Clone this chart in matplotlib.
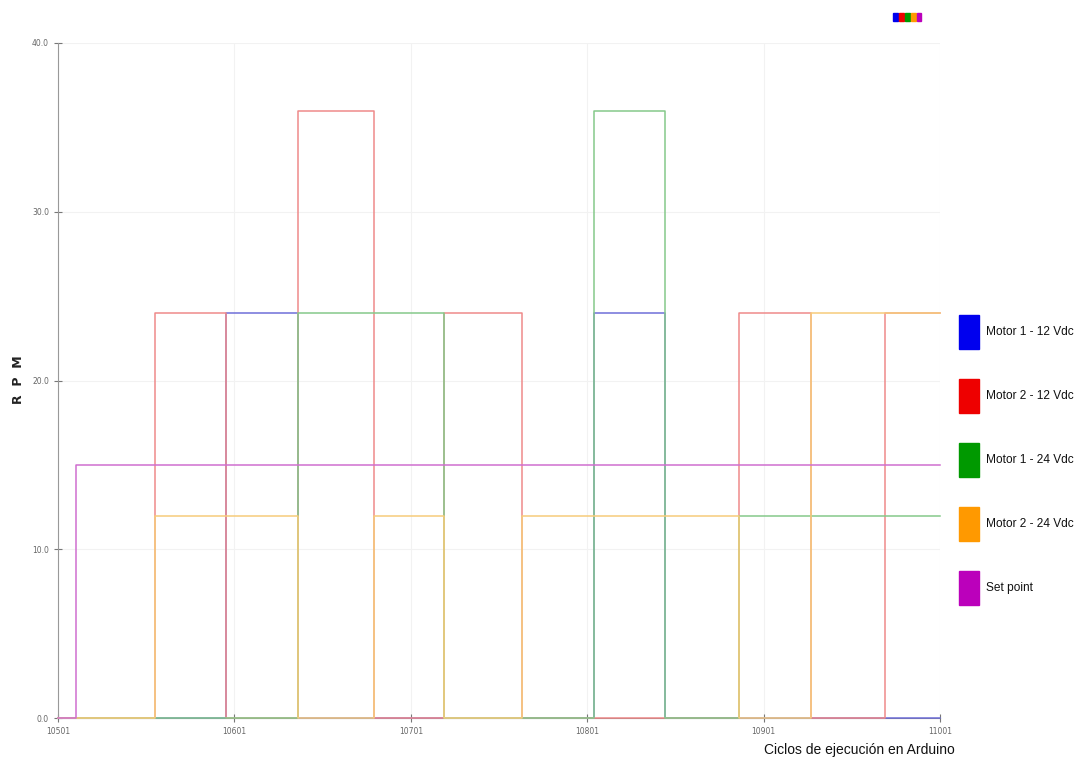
import matplotlib
matplotlib.use("Agg")
import matplotlib.pyplot as plt
from matplotlib.patches import Rectangle
from matplotlib.ticker import FormatStrFormatter

# Cycle counts where the readings change (step edges)
edges = [10501, 10511, 10556, 10596, 10637, 10680, 10720, 10764,
         10805, 10845, 10887, 10928, 10970, 11001]

# RPM held on each interval between consecutive edges
motor1_12 = [0, 0, 0, 24, 0, 0, 0, 0, 24, 0, 0, 0, 0]
motor2_12 = [0, 0, 24, 0, 36, 0, 24, 0, 0, 0, 24, 0, 24]
motor1_24 = [0, 0, 0, 0, 24, 24, 0, 0, 36, 0, 12, 12, 12]
motor2_24 = [0, 0, 12, 12, 0, 12, 0, 12, 12, 12, 0, 24, 24]
set_point = [0, 15, 15, 15, 15, 15, 15, 15, 15, 15, 15, 15, 15]

labels = ["Motor 1 - 12 Vdc", "Motor 2 - 12 Vdc", "Motor 1 - 24 Vdc",
          "Motor 2 - 24 Vdc", "Set point"]
colors = ["#0000ee", "#ee0000", "#009900", "#ff9900", "#bb00bb"]
# lighter tints for the traces themselves
line_colors = ["#6f6fd8", "#ef8a8a", "#85c98a", "#f7cc7a", "#cf6fcf"]
series = [motor1_12, motor2_12, motor1_24, motor2_24, set_point]

x_ticks = [10501, 10601, 10701, 10801, 10901, 11001]
y_ticks = [0, 10, 20, 30, 40]

W, H = 1081, 762
fig = plt.figure(figsize=(W / 100, H / 100), dpi=100)
ax = fig.add_axes([58 / W, 1 - 718 / H, (940 - 58) / W, (718 - 43) / H])

for vals, col in zip(series, line_colors):
    ax.step(edges, vals + [vals[-1]], where="post", color=col, linewidth=1.1,
            clip_on=False, zorder=3)

ax.set_xlim(edges[0], edges[-1])
ax.set_ylim(0, 40)
ax.set_xticks(x_ticks)
ax.set_yticks(y_ticks)
ax.yaxis.set_major_formatter(FormatStrFormatter("%.1f"))
ax.tick_params(axis="both", labelsize=5.5, labelcolor="#666666",
               colors="#777777", direction="inout", length=6, width=0.8)
ax.grid(color="#f2f2f2", linewidth=0.8)
ax.set_axisbelow(True)
for side in ["top", "right"]:
    ax.spines[side].set_visible(False)
ax.spines["left"].set_color("#999999")
ax.spines["bottom"].set_color("#777777")
ax.spines["bottom"].set_zorder(1)

fig.text(18 / W, 1 - 380 / H, "R  P  M", rotation=90, ha="center",
         va="center", fontsize=9, fontweight="bold", color="#222222")
fig.text(859 / W, 1 - 750 / H, "Ciclos de ejecución en Arduino",
         ha="center", va="center", fontsize=10, color="#111111",
         family="Liberation Sans")

# Side legend: tall colour swatches with labels
for i, (lab, col) in enumerate(zip(labels, colors)):
    yc = 332 + i * 64
    fig.patches.append(Rectangle((959 / W, 1 - (yc + 17) / H), 20 / W, 34 / H,
                                 transform=fig.transFigure, color=col))
    fig.text(986 / W, 1 - yc / H, lab, ha="left", va="center",
             fontsize=8.6, color="#111111", family="Liberation Sans")

# Small colour key at the top right
for i, col in enumerate(colors):
    fig.patches.append(Rectangle(((893 + i * 6) / W, 1 - 21 / H), 4.5 / W, 8 / H,
                                 transform=fig.transFigure, color=col))

fig.savefig("out.png", dpi=100)
